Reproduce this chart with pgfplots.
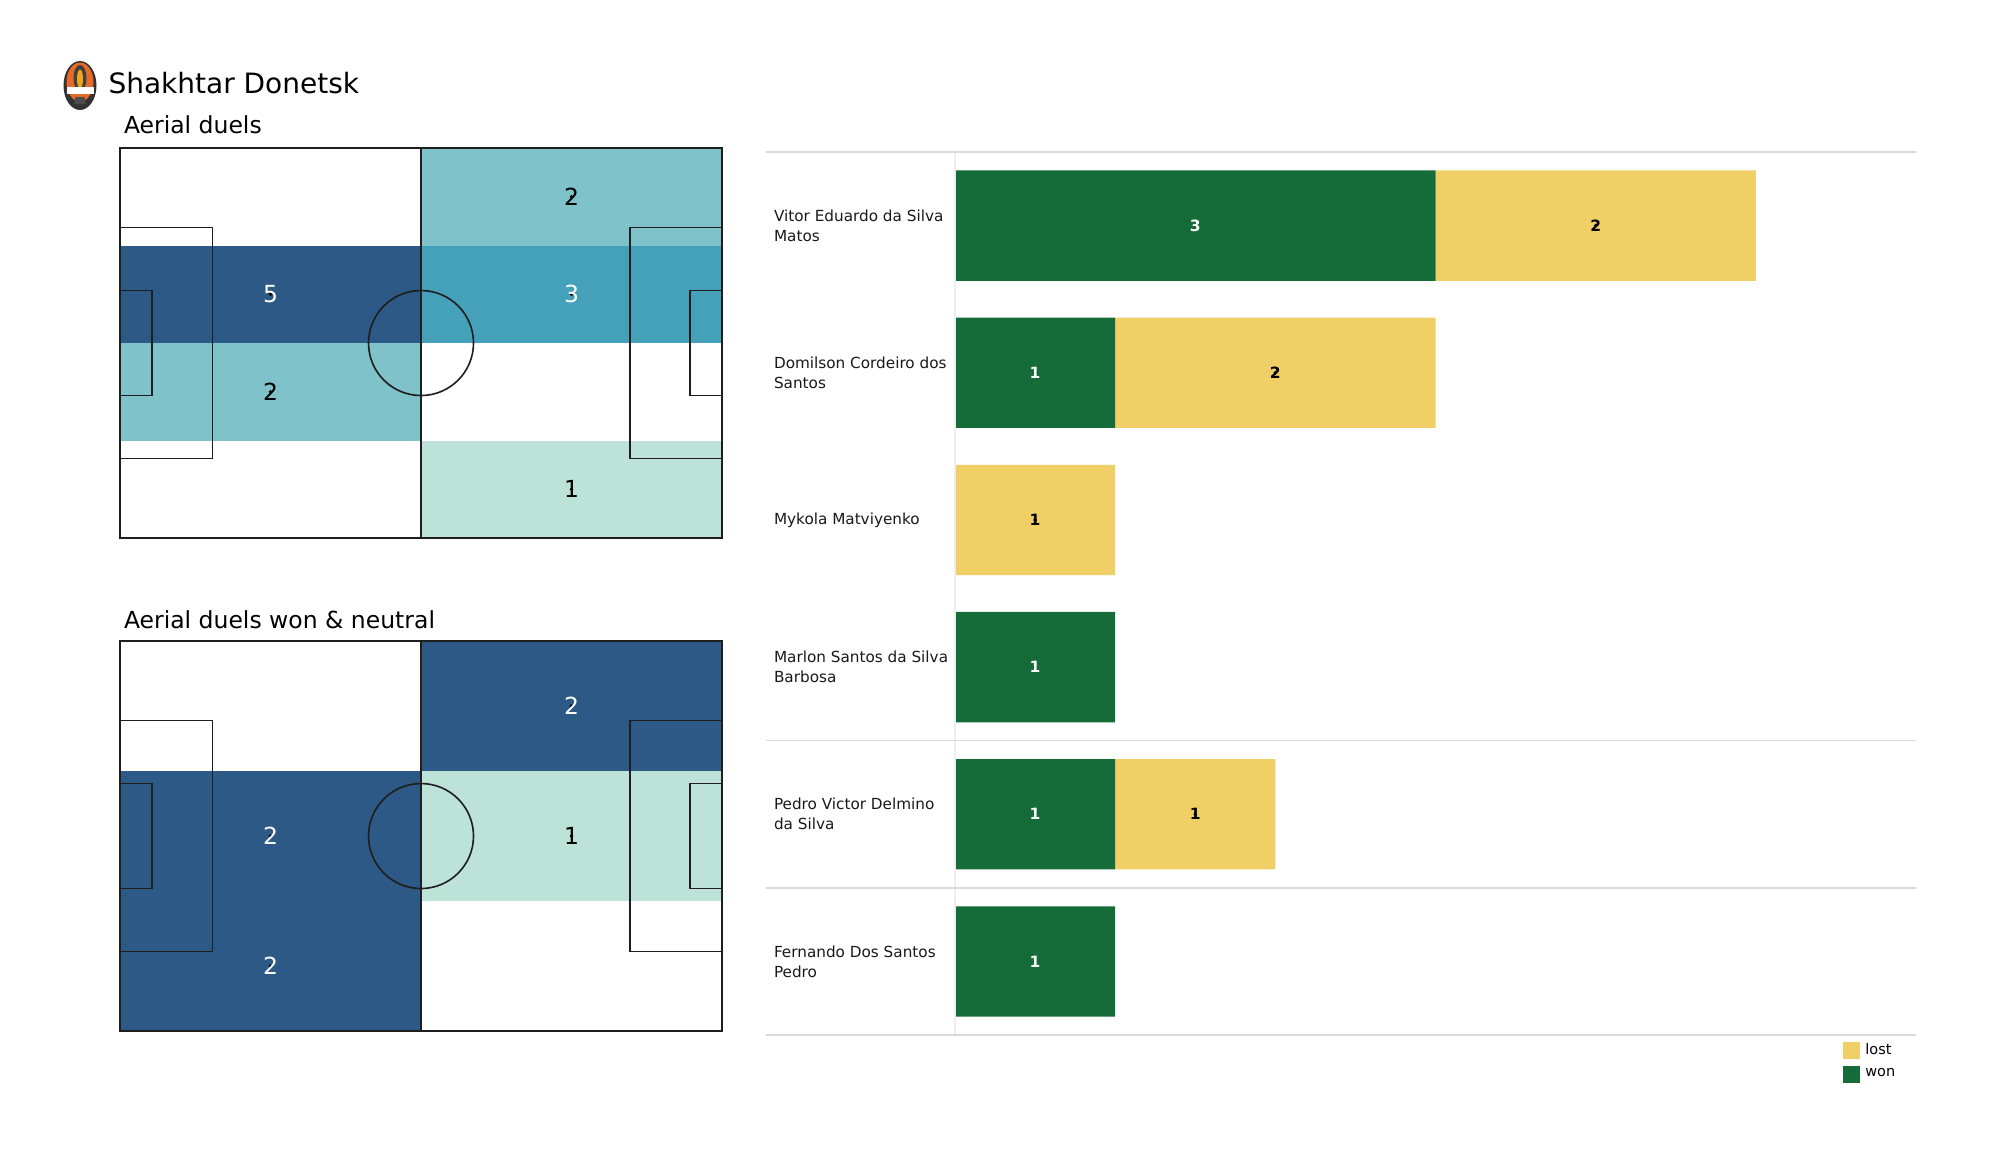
\documentclass[border=0pt]{standalone}
\usepackage{pgfplots}
\pgfplotsset{compat=1.18}
\usepackage{pgfplotstable}
\usepackage{fontspec}
\setmainfont{DejaVu Sans}

\definecolor{zdark}{RGB}{44,89,133}
\definecolor{zmid}{RGB}{69,161,185}
\definecolor{zlight}{RGB}{128,194,202}
\definecolor{zmint}{RGB}{189,227,216}
\definecolor{wongreen}{RGB}{22,108,56}
\definecolor{lostyellow}{RGB}{240,207,102}
\definecolor{sepgray}{RGB}{217,217,217}
\definecolor{vgray}{RGB}{238,238,238}
\definecolor{pline}{RGB}{30,30,30}
\definecolor{logoorange}{RGB}{229,107,42}

\pgfplotstableread{
idx won lost
0 3 2
1 1 2
2 0 1
3 1 0
4 1 1
5 1 0
}\duels

\pgfplotsset{
  pitch/.style={scale only axis, width=240.8pt, height=156pt,
    xmin=0, xmax=105, ymin=0, ymax=68, hide axis, clip=false, anchor=south west},
  zonelab/.style={only marks, mark=*, mark size=0.5pt,
    mark options={draw=none, fill=none},
    nodes near coords, point meta=explicit symbolic,
    nodes near coords align={anchor=center},
    every node near coord/.append style={font=\fontsize{9.4}{11}\selectfont, text=#1, inner sep=0pt}},
  barlab/.style={only marks, mark=*, mark size=0.5pt,
    mark options={draw=none, fill=none},
    nodes near coords, point meta=explicit symbolic,
    nodes near coords align={anchor=center},
    every node near coord/.append style={font=\bfseries\fontsize{6.2}{7}\selectfont, text=#1, inner sep=0pt}},
  sqlegend/.style={legend image code/.code={\fill[##1, draw=none] (0pt,-3.4pt) rectangle (6.8pt,3.4pt);}},
}
\tikzset{pl/.style={draw=pline, line width=0.65pt}}

\begin{document}
\begin{tikzpicture}
\begin{scope}[x=0.4pt,y=-0.4pt]
\path[use as bounding box] (0,0) rectangle (2000,1175);
% crest
\fill[black!80] (80,85.5) ellipse [x radius=16.5, y radius=24.5];
\fill[logoorange] (80,82) ellipse [x radius=13.5, y radius=19.5];
\fill[black!75] (80,78) ellipse [x radius=6.5, y radius=13];
\fill[logoorange!60!yellow] (80,79) ellipse [x radius=3, y radius=9.5];
\fill[white] (66.5,87) rectangle (93.5,94);
\fill[black!70] (75,97) rectangle (85,104);
% titles
\node[anchor=base west, inner sep=0pt, font=\fontsize{11.2}{13}\selectfont] at (108,93) {Shakhtar Donetsk};
\node[anchor=base west, inner sep=0pt, font=\fontsize{9.4}{11}\selectfont] at (123.5,133) {Aerial duels};
\node[anchor=base west, inner sep=0pt, font=\fontsize{9.4}{11}\selectfont] at (123.5,628) {Aerial duels won \& neutral};
\end{scope}

% ---------- pitch 1 : aerial duels ----------
\begin{axis}[pitch, at={(48pt,-215.2pt)}]
\addplot[fill=zdark, draw=none] coordinates {(0,34) (52.5,34) (52.5,51) (0,51)} -- cycle;
\addplot[fill=zlight, draw=none] coordinates {(0,17) (52.5,17) (52.5,34) (0,34)} -- cycle;
\addplot[fill=zlight, draw=none] coordinates {(52.5,51) (105,51) (105,68) (52.5,68)} -- cycle;
\addplot[fill=zmid, draw=none] coordinates {(52.5,34) (105,34) (105,51) (52.5,51)} -- cycle;
\addplot[fill=zmint, draw=none] coordinates {(52.5,0) (105,0) (105,17) (52.5,17)} -- cycle;
\draw[pl] (axis cs:0,0) rectangle (axis cs:105,68);
\draw[pl] (axis cs:52.5,0) -- (axis cs:52.5,68);
\draw[pl] (axis cs:52.5,34) circle[radius=21pt];
\draw[pl] (axis cs:0,13.84) -- (axis cs:16.1,13.84) -- (axis cs:16.1,54.16) -- (axis cs:0,54.16);
\draw[pl] (axis cs:0,24.84) -- (axis cs:5.6,24.84) -- (axis cs:5.6,43.16) -- (axis cs:0,43.16);
\draw[pl] (axis cs:105,13.84) -- (axis cs:88.9,13.84) -- (axis cs:88.9,54.16) -- (axis cs:105,54.16);
\draw[pl] (axis cs:105,24.84) -- (axis cs:99.4,24.84) -- (axis cs:99.4,43.16) -- (axis cs:105,43.16);
\addplot[zonelab=white] coordinates {(26.25,42.5) [5] (78.75,42.5) [3]};
\addplot[zonelab=black] coordinates {(78.75,59.5) [2] (26.25,25.5) [2] (78.75,8.5) [1]};
\end{axis}

% ---------- pitch 2 : won & neutral ----------
\begin{axis}[pitch, at={(48pt,-412.4pt)}]
\addplot[fill=zdark, draw=none] coordinates {(52.5,45.333) (105,45.333) (105,68) (52.5,68)} -- cycle;
\addplot[fill=zmint, draw=none] coordinates {(52.5,22.667) (105,22.667) (105,45.333) (52.5,45.333)} -- cycle;
\addplot[fill=zdark, draw=none] coordinates {(0,22.667) (52.5,22.667) (52.5,45.333) (0,45.333)} -- cycle;
\addplot[fill=zdark, draw=none] coordinates {(0,0) (52.5,0) (52.5,22.667) (0,22.667)} -- cycle;
\draw[pl] (axis cs:0,0) rectangle (axis cs:105,68);
\draw[pl] (axis cs:52.5,0) -- (axis cs:52.5,68);
\draw[pl] (axis cs:52.5,34) circle[radius=21pt];
\draw[pl] (axis cs:0,13.84) -- (axis cs:16.1,13.84) -- (axis cs:16.1,54.16) -- (axis cs:0,54.16);
\draw[pl] (axis cs:0,24.84) -- (axis cs:5.6,24.84) -- (axis cs:5.6,43.16) -- (axis cs:0,43.16);
\draw[pl] (axis cs:105,13.84) -- (axis cs:88.9,13.84) -- (axis cs:88.9,54.16) -- (axis cs:105,54.16);
\draw[pl] (axis cs:105,24.84) -- (axis cs:99.4,24.84) -- (axis cs:99.4,43.16) -- (axis cs:105,43.16);
\addplot[zonelab=white] coordinates {(78.75,56.667) [2] (26.25,34) [2] (26.25,11.333) [2]};
\addplot[zonelab=black] coordinates {(78.75,34) [1]};
\end{axis}

% ---------- bars ----------
\begin{axis}[
  at={(382pt,-414pt)}, anchor=south west, scale only axis,
  width=384.4pt, height=353.2pt,
  xbar stacked, bar width=0.75,
  xmin=0, xmax=6, ymin=-0.5, ymax=5.5, y dir=reverse,
  axis line style={draw=none}, major tick length=0pt, xtick=\empty,
  ytick={0,...,5},
  yticklabels={{Vitor Eduardo da Silva\\Matos},{Domilson Cordeiro dos\\Santos},{Mykola Matviyenko},{Marlon Santos da Silva\\Barbosa},{Pedro Victor Delmino\\da Silva},{Fernando Dos Santos\\Pedro}},
  yticklabel style={anchor=west, align=left, inner sep=0pt, xshift=-72.6pt,
    font=\fontsize{6.1}{8}\selectfont, text=black!90},
  clip=false,
  reverse legend, legend cell align=left,
  legend style={at={(0.9236,-0.0074)}, anchor=north west, draw=none, fill=none,
    inner sep=0pt, row sep=2.6pt, font=\fontsize{5.8}{7}\selectfont,
    nodes={inner sep=0.5pt},
    /tikz/every odd column/.append style={column sep=1.6pt}},
]
\draw[sepgray, line width=0.6pt] (axis cs:-1.18,-0.5) -- (axis cs:6,-0.5);
\draw[sepgray, line width=0.6pt] (axis cs:-1.18,3.5) -- (axis cs:6,3.5);
\draw[sepgray, line width=0.6pt] (axis cs:-1.18,4.5) -- (axis cs:6,4.5);
\draw[sepgray, line width=0.6pt] (axis cs:-1.18,5.5) -- (axis cs:6,5.5);
\draw[vgray, line width=0.6pt] (axis cs:0,-0.5) -- (axis cs:0,5.5);
\addplot[fill=wongreen, draw=none, sqlegend] table[x=won, y=idx]{\duels};
\addlegendentry{won}
\addplot[fill=lostyellow, draw=none, sqlegend] table[x=lost, y=idx]{\duels};
\addlegendentry{lost}
\end{axis}

% ---------- bar value labels ----------
\begin{axis}[
  at={(382pt,-414pt)}, anchor=south west, scale only axis,
  width=384.4pt, height=353.2pt,
  xmin=0, xmax=6, ymin=-0.5, ymax=5.5, y dir=reverse, hide axis, clip=false]
\addplot[barlab=white] coordinates {(1.5,0) [3] (0.5,1) [1] (0.5,3) [1] (0.5,4) [1] (0.5,5) [1]};
\addplot[barlab=black] coordinates {(4,0) [2] (2,1) [2] (0.5,2) [1] (1.5,4) [1]};
\end{axis}
\end{tikzpicture}
\end{document}
